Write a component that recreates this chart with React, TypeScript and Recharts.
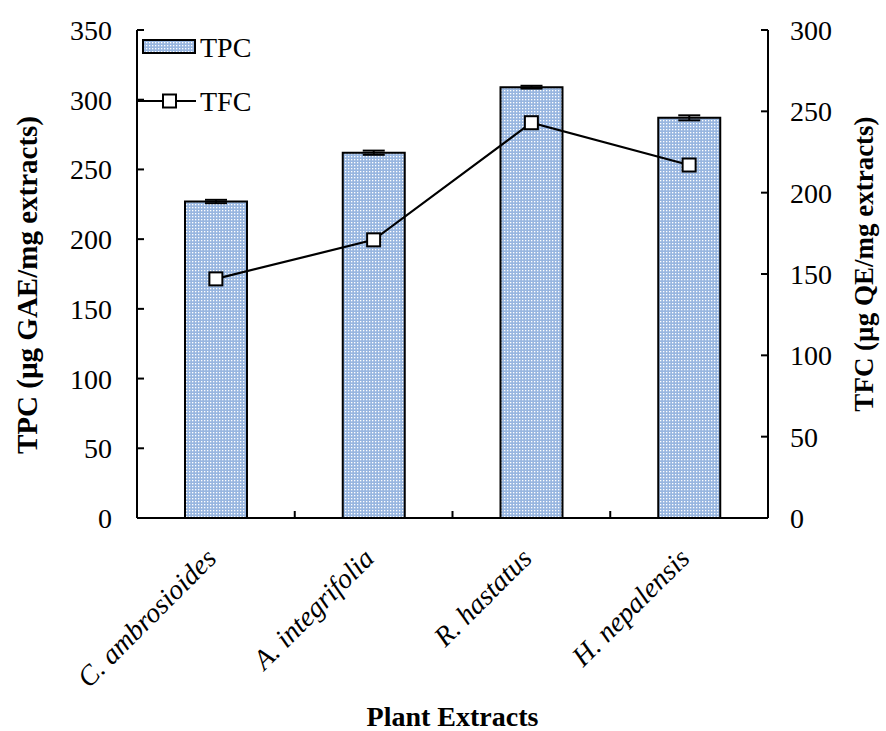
import { Bar, ComposedChart, ErrorBar, Label, Legend, Line, XAxis, YAxis } from "recharts"

const categories = ["C. ambrosioides", "A. integrifolia", "R. hastatus", "H. nepalensis"]
const tpcValues = [227, 262, 309, 287]
const tpcErrors = [1.2, 1.5, 1, 1.8]
const tfcValues = [147, 171, 243, 217]
const leftTicks = [0, 50, 100, 150, 200, 250, 300, 350]
const rightTicks = [0, 50, 100, 150, 200, 250, 300]

const FONT = 'Liberation Serif, Tinos, Times New Roman, serif'

const data = categories.map((name, i) => ({
  name,
  tpc: tpcValues[i],
  tpcErr: tpcErrors[i],
  tfc: tfcValues[i],
}))

function SquareDot(props: any) {
  const { cx, cy } = props
  if (cx == null || cy == null) return null
  return <rect x={cx - 6.5} y={cy - 6.5} width={13} height={13} fill="#fff" stroke="#000" strokeWidth={2} />
}

// category label + Excel-style separator tick between categories
function CategoryTick(props: any) {
  const { x, y, payload, index } = props
  const half = payload?.offset ?? 0
  const tx = x + 2
  const ty = y + 42
  return (
    <g>
      {half > 0 && index < categories.length - 1 && (
        <line x1={x + half} x2={x + half} y1={y} y2={y - 7} stroke="#000" strokeWidth={2} />
      )}
      <text
        x={tx}
        y={ty}
        transform={`rotate(-45, ${tx}, ${ty})`}
        textAnchor="end"
        fontFamily={FONT}
        fontStyle="italic"
        fontSize={28}
        fill="#000"
      >
        {payload.value}
      </text>
    </g>
  )
}

function ChartLegend() {
  return (
    <svg width={150} height={90} style={{ display: "block" }}>
      <rect x={6} y={10} width={52} height={13} fill="url(#tpcPattern)" stroke="#000" strokeWidth={2} />
      <text x={63} y={17} dy="0.35em" fontFamily={FONT} fontSize={28} fill="#000">
        TPC
      </text>
      <line x1={0} x2={59} y1={71} y2={71} stroke="#000" strokeWidth={2} />
      <rect x={26} y={64.5} width={13} height={13} fill="#fff" stroke="#000" strokeWidth={2} />
      <text x={63} y={71} dy="0.35em" fontFamily={FONT} fontSize={28} fill="#000">
        TFC
      </text>
    </svg>
  )
}

function AxisTitle({ viewBox, x, yMid, size, text }: any) {
  const cy = yMid ?? viewBox.y + viewBox.height / 2
  return (
    <text
      x={x}
      y={cy}
      transform={`rotate(-90, ${x}, ${cy})`}
      textAnchor="middle"
      fontFamily={FONT}
      fontWeight="bold"
      fontSize={size}
      fill="#000"
    >
      {text}
    </text>
  )
}

export default function App() {
  const tickStyle = { fontFamily: FONT, fontSize: 28, fill: "#000" }
  return (
    <div style={{ position: "absolute", left: 0, top: 0, background: "#fff", fontFamily: FONT }}>
      <ComposedChart width={886} height={731} data={data} margin={{ top: 30, right: 0, bottom: 0, left: 0 }}>
        <defs>
          <pattern id="tpcPattern" width={3} height={3} patternUnits="userSpaceOnUse">
            <rect width={3} height={3} fill="#98b6e0" />
            <rect width={1.3} height={1.3} fill="#ffffff" />
          </pattern>
        </defs>
        <XAxis
          dataKey="name"
          height={213}
          tick={<CategoryTick />}
          tickLine={false}
          tickSize={0}
          tickMargin={0}
          axisLine={{ stroke: "#000", strokeWidth: 2 }}
          interval={0}
        >
          <Label
            content={({ viewBox }: any) => (
              <text
                x={viewBox.x + viewBox.width / 2}
                y={726}
                textAnchor="middle"
                fontFamily={FONT}
                fontWeight="bold"
                fontSize={28}
                fill="#000"
              >
                Plant Extracts
              </text>
            )}
          />
        </XAxis>
        <YAxis
          yAxisId="left"
          width={137}
          domain={[0, 350]}
          ticks={leftTicks}
          interval={0}
          tick={tickStyle}
          tickSize={-7}
          tickMargin={32}
          tickLine={{ stroke: "#000", strokeWidth: 2 }}
          axisLine={{ stroke: "#000", strokeWidth: 2 }}
        >
          <Label content={(p: any) => <AxisTitle {...p} x={37} yMid={285} size={29} text="TPC (µg GAE/mg extracts)" />} />
        </YAxis>
        <YAxis
          yAxisId="right"
          orientation="right"
          width={118}
          domain={[0, 300]}
          ticks={rightTicks}
          interval={0}
          tick={tickStyle}
          tickSize={-7}
          tickMargin={29}
          tickLine={{ stroke: "#000", strokeWidth: 2 }}
          axisLine={{ stroke: "#000", strokeWidth: 2 }}
        >
          <Label content={(p: any) => <AxisTitle {...p} x={873} yMid={264} size={27} text="TFC (µg QE/mg extracts)" />} />
        </YAxis>
        <Legend
          layout="vertical"
          align="center"
          verticalAlign="middle"
          content={() => <ChartLegend />}
          wrapperStyle={{ left: 137, top: 30, width: 150, height: 90 }}
        />
        <Bar
          yAxisId="left"
          dataKey="tpc"
          name="TPC"
          fill="url(#tpcPattern)"
          stroke="#000"
          strokeWidth={2}
          barSize={62}
          isAnimationActive={false}
        >
          <ErrorBar dataKey="tpcErr" width={11} stroke="#000" strokeWidth={2} direction="y" />
        </Bar>
        <Line
          yAxisId="right"
          dataKey="tfc"
          name="TFC"
          type="linear"
          stroke="#000"
          strokeWidth={2.2}
          dot={<SquareDot />}
          activeDot={false}
          isAnimationActive={false}
        />
      </ComposedChart>
    </div>
  )
}
